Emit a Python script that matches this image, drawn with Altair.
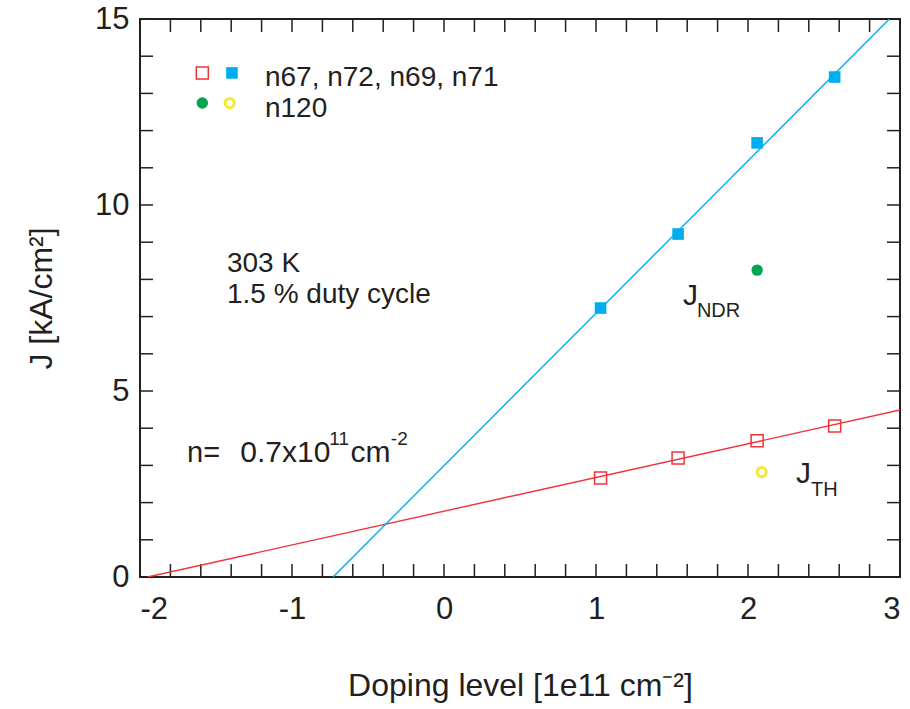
import altair as alt
import pandas as pd

# ---- data ----
doping = [1.03, 1.54, 2.06, 2.57]
j_th = [2.66, 3.20, 3.66, 4.06]      # red open squares
j_ndr = [7.23, 9.22, 11.67, 13.44]   # blue filled squares
n120_x = [2.06]
n120_ndr = [8.25]                    # green dot
n120_x_th = [2.09]
n120_th = [2.82]                     # yellow ring

# fitted lines (end points)
fit_ndr_x = [-0.73, 2.93]
fit_ndr_y = [0.0, 15.0]
fit_th_x = [-1.95, 3.0]
fit_th_y = [0.0, 4.49]

x_ticks = [-2, -1.8, -1.6, -1.4, -1.2, -1, -0.8, -0.6, -0.4, -0.2, 0, 0.2, 0.4, 0.6, 0.8,
           1, 1.2, 1.4, 1.6, 1.8, 2, 2.2, 2.4, 2.6, 2.8, 3]
y_ticks = [0, 1, 2, 3, 4, 5, 6, 7, 8, 9, 10, 11, 12, 13, 14, 15]
x_labels = [-2, -1, 0, 1, 2, 3]
y_labels = [0, 5, 10, 15]

RED = "#ee3338"
BLUE = "#00aeef"
GREEN = "#00a651"
YELLOW = "#f7e731"
INK = "#231f20"
FONT = "Liberation Sans"

W, H = 760, 558

xs = alt.Scale(domain=[-2, 3], nice=False, zero=False)
ys = alt.Scale(domain=[0, 15], nice=False, zero=False)

pts = pd.DataFrame({"x": doping, "th": j_th, "ndr": j_ndr})

base_x = alt.X("x:Q", scale=xs,
               axis=alt.Axis(values=x_labels, ticks=False, domain=False, grid=False,
                             labelFontSize=31, labelFont=FONT, labelColor=INK, labelPadding=17,
                             labelExpr="datum.value < 0 ? '-' + abs(datum.value) : '' + datum.value",
                             title="Doping level [1e11 cm⁻²]", titleFontSize=32, titleFont=FONT,
                             titleFontWeight="normal", titleColor=INK, titlePadding=46))
base_y = alt.Y("y:Q", scale=ys,
               axis=alt.Axis(values=y_labels, ticks=False, domain=False, grid=False,
                             labelFontSize=31, labelFont=FONT, labelColor=INK, labelPadding=11,
                             title="J [kA/cm²]", titleFontSize=32, titleFont=FONT,
                             titleFontWeight="normal", titleColor=INK, titlePadding=36))

# invisible layer carrying the axes
axes = alt.Chart(pd.DataFrame({"x": [-2, 3], "y": [0, 15]})).mark_point(opacity=0).encode(
    x=base_x, y=base_y)

# tick marks (inward, all four sides)
xt = pd.DataFrame({"x": x_ticks})
yt = pd.DataFrame({"y": y_ticks})
tick_style = dict(color=INK, strokeWidth=1.5)
tb = alt.Chart(xt).mark_rule(**tick_style).encode(
    x=alt.X("x:Q", scale=xs), y=alt.value(H), y2=alt.value(H - 13))
tt = alt.Chart(xt).mark_rule(**tick_style).encode(
    x=alt.X("x:Q", scale=xs), y=alt.value(0), y2=alt.value(13))
tl = alt.Chart(yt).mark_rule(**tick_style).encode(
    y=alt.Y("y:Q", scale=ys), x=alt.value(0), x2=alt.value(13))
tr = alt.Chart(yt).mark_rule(**tick_style).encode(
    y=alt.Y("y:Q", scale=ys), x=alt.value(W), x2=alt.value(W - 13))

# fit lines
line_ndr = alt.Chart(pd.DataFrame({"x": fit_ndr_x, "y": fit_ndr_y})).mark_line(
    color=BLUE, strokeWidth=1.4, clip=True).encode(x=alt.X("x:Q", scale=xs), y=alt.Y("y:Q", scale=ys))
line_th = alt.Chart(pd.DataFrame({"x": fit_th_x, "y": fit_th_y})).mark_line(
    color=RED, strokeWidth=1.4, clip=True).encode(x=alt.X("x:Q", scale=xs), y=alt.Y("y:Q", scale=ys))

SQ_OPEN = dict(shape="square", filled=False, color=RED, strokeWidth=1.5, size=144, opacity=1)
SQ_FILL = dict(shape="square", filled=True, color=BLUE, size=135, opacity=1)
DOT = dict(shape="circle", filled=True, color=GREEN, size=130, opacity=1)
RING = dict(shape="circle", filled=False, color=YELLOW, strokeWidth=3, size=85, opacity=1)

# data points
p_th = alt.Chart(pts).mark_point(**SQ_OPEN).encode(
    x=alt.X("x:Q", scale=xs), y=alt.Y("th:Q", scale=ys))
p_ndr = alt.Chart(pts).mark_point(**SQ_FILL).encode(
    x=alt.X("x:Q", scale=xs), y=alt.Y("ndr:Q", scale=ys))
p_g = alt.Chart(pd.DataFrame({"x": n120_x, "y": n120_ndr})).mark_point(**DOT).encode(
    x=alt.X("x:Q", scale=xs), y=alt.Y("y:Q", scale=ys))
p_y = alt.Chart(pd.DataFrame({"x": n120_x_th, "y": n120_th})).mark_point(**RING).encode(
    x=alt.X("x:Q", scale=xs), y=alt.Y("y:Q", scale=ys))

# legend symbols
leg_sq_open = alt.Chart(pd.DataFrame({"x": [-1.59], "y": [13.55]})).mark_point(**SQ_OPEN).encode(
    x=alt.X("x:Q", scale=xs), y=alt.Y("y:Q", scale=ys))
leg_sq_fill = alt.Chart(pd.DataFrame({"x": [-1.395], "y": [13.55]})).mark_point(**SQ_FILL).encode(
    x=alt.X("x:Q", scale=xs), y=alt.Y("y:Q", scale=ys))
leg_dot = alt.Chart(pd.DataFrame({"x": [-1.59], "y": [12.74]})).mark_point(**DOT).encode(
    x=alt.X("x:Q", scale=xs), y=alt.Y("y:Q", scale=ys))
leg_ring = alt.Chart(pd.DataFrame({"x": [-1.41], "y": [12.74]})).mark_point(**RING).encode(
    x=alt.X("x:Q", scale=xs), y=alt.Y("y:Q", scale=ys))


def label(text, x, y, size):
    return alt.Chart(pd.DataFrame({"x": [x], "y": [y], "t": [text]})).mark_text(
        align="left", baseline="alphabetic", font=FONT, fontSize=size, color=INK).encode(
        x=alt.X("x:Q", scale=xs), y=alt.Y("y:Q", scale=ys), text="t:N")


texts = [
    label("n67, n72, n69, n71", -1.178, 13.2, 28),
    label("n120", -1.178, 12.37, 28),
    label("303 K", -1.428, 8.2, 28),
    label("1.5 % duty cycle", -1.428, 7.37, 28),
    label("n=", -1.69, 3.09, 29),
    label("0.7x10", -1.34, 3.09, 30),
    label("11", -0.755, 3.55, 19),
    label("cm", -0.615, 3.09, 30),
    label("-2", -0.35, 3.55, 19),
    label("J", 1.572, 7.31, 30),
    label("NDR", 1.664, 6.99, 20),
    label("J", 2.316, 2.53, 30),
    label("TH", 2.414, 2.18, 20),
]

chart = alt.layer(axes, tb, tt, tl, tr, line_th, line_ndr, p_th, p_ndr, p_g, p_y,
                  leg_sq_open, leg_sq_fill, leg_dot, leg_ring, *texts).properties(
    width=W, height=H,
    autosize=alt.AutoSizeParams(type="none"),
    padding={"left": 140, "top": 19, "right": 10, "bottom": 132},
    background="white",
).configure_view(stroke=INK, strokeWidth=2)

chart.save("out.html", embed_options={"renderer": "svg", "actions": False})
